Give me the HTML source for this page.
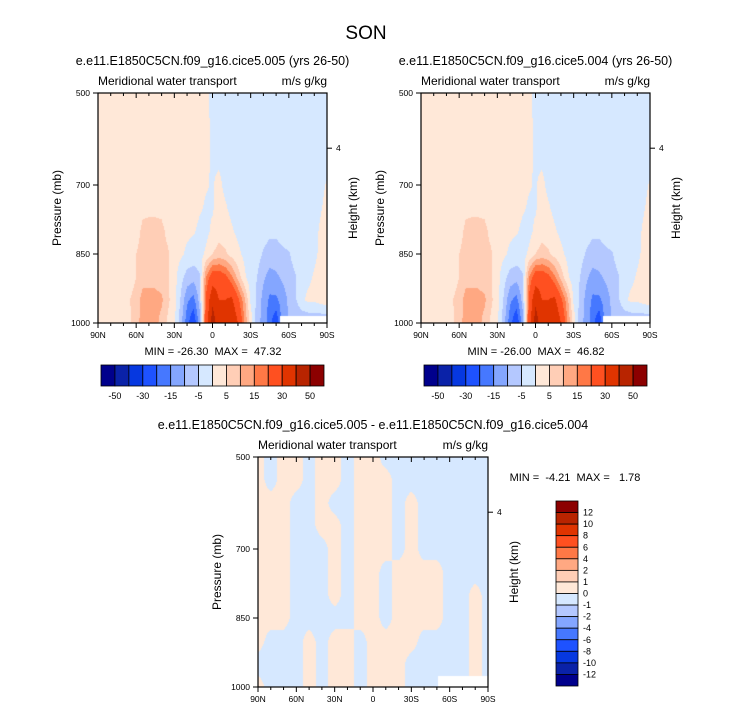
<!DOCTYPE html>
<html><head><meta charset="utf-8"><style>
body{margin:0;background:#fff;width:733px;height:712px;overflow:hidden;position:relative;font-family:"Liberation Sans",Arial,sans-serif;}
canvas{position:absolute;}
svg{position:absolute;left:0;top:0;}
text{white-space:pre;}
</style></head><body>
<canvas id="cv1" width="229" height="230" style="left:98px;top:93px"></canvas>
<canvas id="cv2" width="229" height="230" style="left:421px;top:93px"></canvas>
<canvas id="cv3" width="230" height="230" style="left:258px;top:457px"></canvas>
<svg id="ov" width="733" height="712"></svg>
<script>
// ---- data ----
const latsTop = [90,85,80,75,70,65,60,55,50,45,40,35,30,25,20,15,10,5,0,-5,-10,-15,-20,-25,-30,-35,-40,-45,-50,-55,-60,-65,-70,-75,-80,-85,-90];
const presTop = [500,600,700,750,800,850,900,950,1000];
const field005 = [
[2,2,2,2,2,2,2,2,2,2,2,2,2,2,2,2,2,1,-1,-2,-2,-2,-2,-2,-2,-2,-2,-2,-2,-2,-2,-2,-2,-2,-2,-2,-2],
[2,2,2,2,2,2,2,2,2,2,2,2,2,2,2,2,2,1,-0.8,-2,-2,-2,-2,-2,-2,-2,-2,-2,-2,-2,-2,-2,-2,-2,-2,-2,-2],
[2,2,2,2,2,2,2,2,2,2,2,2,2,2,2,2,1,0.3,-0.3,1,-1,-1.5,-1.5,-1.5,-1.5,-1.5,-1.5,-1.5,-1.5,-1.5,-1.5,-1.5,-1.5,-1.5,-1.5,-0.8,0.3],
[2,2,2,2,2,2,2,4,4,4,4,2,2,2,2,1.5,0.5,-0.5,-0.5,2,0.5,-1,-1,-1,-1,-1,-1,-1,-1,-1,-1,-1,-1,-1,-1,-0.3,1],
[2,2,2,2,2,2,3,6,6.5,6.5,6,4,2,1.5,1,0.5,-1,-1.5,1,3,2,0.5,-1,-2,-2,-2,-3,-4,-4,-3,-2,-2,-2,-2,-1,0.5,2],
[2,2,2,2,2,3,5,7,7,7,6,5.5,2,1,-1,-2,-2,1,5,7,6,3,1,-1,-2,-3,-5.5,-7,-7,-6,-5.5,-3,-2,-2,-1,1,3],
[2,2,2,2,2,2.5,5,8,8,8,7,5.5,2,-3,-7,-8,-5.5,15,25,25,22,16,8,1,-3,-5,-9,-12,-11,-9,-7,-5.5,-2,-1,0.5,2,3],
[2,2,2,2,2,5,7,12,12,12,11,6,2,-5.5,-14,-17,-8,22,38,30,30,32,22,12,-1,-6,-12,-16,-16,-13,-9,-6,-1,1,1,2,3],
[1,1,1,1,1,4,8,12,12,12,8,4,1,-8,-18,-25,-12,25,45,35,35,40,30,15,3,-8,-12,-18,-25,-12,-10,-10,-10,-10,-10,-10,-10]
];
const field004 = field005.map(r => r.slice());
const levelsTop = [-50,-40,-30,-20,-15,-10,-5,0,5,10,15,20,30,40,50];
const levelLabelsTop = ["-50","-30","-15","-5","5","15","30","50"];
const latsDiff = [90,80,70,60,50,40,30,20,10,0,-10,-20,-30,-40,-50,-60,-70,-80,-90];
const presDiff = [500,550,600,650,700,750,800,850,900,950,1000];
const fieldDiff = [
[0.5,-0.5,0.5,0.5,-0.5,0.5,0.5,-0.5,0.5,0.5,-0.5,-0.5,-0.5,-0.5,-0.5,-0.5,-0.5,-0.5,-0.5],
[0.5,-0.5,0.5,0.5,-0.5,0.5,0.5,-0.5,0.5,0.5,0.5,-0.5,-0.5,-0.5,-0.5,-0.5,-0.5,-0.5,-0.5],
[0.5,0.5,0.5,-0.5,-0.5,0.5,-0.5,-0.5,0.5,0.5,0.5,-0.5,0.5,-0.5,-0.5,-0.5,-0.5,-0.5,-0.5],
[0.5,0.5,0.5,-0.5,-0.5,0.5,0.5,-0.5,0.5,0.5,0.5,-0.5,0.5,-0.5,-0.5,-0.5,-0.5,-0.5,-0.5],
[0.5,0.5,0.5,-0.5,-0.5,-0.5,0.5,-0.5,0.5,0.5,0.5,-0.5,0.5,-0.5,-0.5,-0.5,-0.5,-0.5,-0.5],
[0.5,0.5,0.5,-0.5,-0.5,-0.5,0.5,-0.5,0.5,0.5,-0.5,0.5,0.5,0.5,0.5,-0.5,-0.5,-0.5,-0.5],
[0.5,0.5,0.5,-0.5,-0.5,-0.5,0.5,-0.5,0.5,0.5,-0.5,0.5,0.5,0.5,0.5,-0.5,-0.5,0.5,-0.5],
[0.5,0.5,0.5,-0.5,-0.5,-0.5,-0.5,-0.5,0.5,0.5,-0.5,0.5,0.5,0.5,0.5,-0.5,-0.5,0.5,-0.5],
[0.5,-0.5,-0.5,-0.5,0.5,-0.5,0.5,0.5,-0.5,0.5,0.5,0.5,0.5,-0.5,-0.5,-0.5,-0.5,0.5,-0.5],
[-0.5,-0.5,-0.5,-0.5,0.5,-0.5,0.5,0.5,-0.5,0.5,0.5,0.5,-0.5,-0.5,-0.5,-0.5,-0.5,0.5,-0.5],
[0.5,-0.5,-0.5,-0.5,0.5,-0.5,0.5,0.5,-0.5,0.5,0.5,0.5,-0.5,-0.5,-0.5,-0.5,-0.5,0.5,-0.5]
];
const levelsDiff = [-12,-10,-8,-6,-4,-2,-1,0,1,2,4,6,8,10,12];
const levelLabelsDiff = ["12","10","8","6","4","2","1","0","-1","-2","-4","-6","-8","-10","-12"];
const xTickLabels = ["90N","60N","30N","0","30S","60S","90S"];
const xTickLats = [90,60,30,0,-30,-60,-90];
const yTickPres = [500,700,850,1000];
const colors = ["#00008c","#0a22a8","#0638e0","#1e52ff","#4678ff","#84a6ff","#b4c8ff","#d6e8ff","#ffe8d8","#ffceb6","#ffa882","#ff7846","#ff5020","#e03400","#b82400","#8c0000"];

function render(id, lats, pres, field, levels, maskLat, maskP){
  const cv=document.getElementById(id), ctx=cv.getContext('2d');
  const W=cv.width,H=cv.height, img=ctx.createImageData(W,H);
  const rgb=colors.map(c=>[parseInt(c.substr(1,2),16),parseInt(c.substr(3,2),16),parseInt(c.substr(5,2),16)]);
  for(let y=0;y<H;y++){
    const p=500+500*(y+0.5)/H;
    let r=0; while(r<pres.length-2 && pres[r+1]<p) r++;
    const tp=Math.min(1,Math.max(0,(p-pres[r])/(pres[r+1]-pres[r])));
    for(let x=0;x<W;x++){
      const lat=90-180*(x+0.5)/W;
      let c=0; while(c<lats.length-2 && lats[c+1]>lat) c++;
      const tl=Math.min(1,Math.max(0,(lats[c]-lat)/(lats[c]-lats[c+1])));
      const v=(field[r][c]*(1-tl)+field[r][c+1]*tl)*(1-tp)+(field[r+1][c]*(1-tl)+field[r+1][c+1]*tl)*tp;
      let k=0; for(const b of levels){ if(v>=b) k++; }
      let col=rgb[k];
      if(lat<=maskLat && p>=maskP) col=[255,255,255];
      const i=(y*W+x)*4; img.data[i]=col[0];img.data[i+1]=col[1];img.data[i+2]=col[2];img.data[i+3]=255;
    }
  }
  ctx.putImageData(img,0,0);
}
render('cv1',latsTop,presTop,field005,levelsTop,-53,985);
render('cv2',latsTop,presTop,field004,levelsTop,-53,985);
render('cv3',latsDiff,presDiff,fieldDiff,levelsDiff,-51,977);

const NS="http://www.w3.org/2000/svg", ov=document.getElementById('ov');
function el(tag,attrs,parent){const e=document.createElementNS(NS,tag);for(const k in attrs)e.setAttribute(k,attrs[k]);(parent||ov).appendChild(e);return e;}
function txt(x,y,s,size,anchor,name,rot){
  const t=el('text',{x:x,y:y,'font-size':size,'text-anchor':anchor||'middle','font-family':'"Liberation Sans",Arial,sans-serif',fill:'#000'});
  if(rot) t.setAttribute('transform','rotate(-90 '+x+' '+y+')');
  t.textContent=s;
  
  
  return t;
}
function panel(x0,y0,W,H,tag,title,titleY,minmax,mmX,mmY,mmAnchor){
  const g=el('g',{});
  
  
  const xs=lat=>x0+(90-lat)/180*W, ys=p=>y0+(p-500)/500*H;
  el('rect',{x:x0,y:y0,width:W,height:H,fill:'none',stroke:'#000','stroke-width':1.2},g);
  for(let lat=90;lat>=-90;lat-=10){
    const major=lat%30===0, x=xs(lat);
    el('line',{x1:x,y1:y0+H,x2:x,y2:y0+H+(major?5:3),stroke:'#000','stroke-width':1},g);
    el('line',{x1:x,y1:y0,x2:x,y2:y0+(major?5:3),stroke:'#000','stroke-width':1},g);
  }
  xTickLats.forEach((lat,i)=>txt(xs(lat),y0+H+15,xTickLabels[i],8.5,'middle','x-tick-label-'+tag));
  yTickPres.forEach(p=>{
    el('line',{x1:x0-5,y1:ys(p),x2:x0,y2:ys(p),stroke:'#000','stroke-width':1},g);
    txt(x0-8,ys(p)+3,String(p),8.5,'end','y-tick-label-'+tag);
  });
  el('line',{x1:x0+W,y1:ys(620),x2:x0+W+5,y2:ys(620),stroke:'#000','stroke-width':1},g);
  txt(x0+W+9,ys(620)+3,'4',8.5,'start','height-tick-label-'+tag);
  txt(x0-37,y0+H/2,'Pressure (mb)',12,'middle','y-axis-title-'+tag,true);
  txt(x0+W+30,y0+H/2,'Height (km)',12,'middle','right-axis-title-'+tag,true);
  txt(x0,y0-8,'Meridional water transport',12,'start','variable-label-'+tag);
  txt(x0+W,y0-8,'m/s g/kg',12,'end','units-label-'+tag);
  txt(x0+W/2,titleY,title,12.5,'middle','panel-title-'+tag);
  txt(mmX,mmY,minmax,11,mmAnchor,'min-max-label-'+tag);
}
txt(366,39,'SON',19,'middle','main-title');
panel(98,93,229,230,'005','e.e11.E1850C5CN.f09_g16.cice5.005 (yrs 26-50)',65,'MIN = -26.30  MAX =  47.32',213,355,'middle');
panel(421,93,229,230,'004','e.e11.E1850C5CN.f09_g16.cice5.004 (yrs 26-50)',65,'MIN = -26.00  MAX =  46.82',536,355,'middle');
panel(258,457,230,230,'diff','e.e11.E1850C5CN.f09_g16.cice5.005 - e.e11.E1850C5CN.f09_g16.cice5.004',429,'MIN =  -4.21  MAX =   1.78',575,481,'middle');

function hbar(x0,y0,W,H,tag){
  const bw=W/colors.length;
  colors.forEach((c,i)=>{
    const r=el('rect',{x:x0+i*bw,y:y0,width:bw,height:H,fill:c,stroke:'#000','stroke-width':0.8});
    
    
  });
  levelLabelsTop.forEach((s,i)=>txt(x0+bw*(1+2*i),y0+H+13,s,9,'middle','colorbar-label-'+tag));
}
hbar(101,365,223,21,'005');
hbar(424,365,223,21,'004');
(function(){
  const x0=556,y0=501,W=22,H=185,bh=H/colors.length;
  colors.slice().reverse().forEach((c,i)=>{
    const r=el('rect',{x:x0,y:y0+i*bh,width:W,height:bh,fill:c,stroke:'#000','stroke-width':0.8});
    
    
  });
  levelLabelsDiff.forEach((s,i)=>txt(x0+W+5,y0+bh*(i+1)+3,s,9,'start','colorbar-label-diff'));
})();
</script>
</body></html>
